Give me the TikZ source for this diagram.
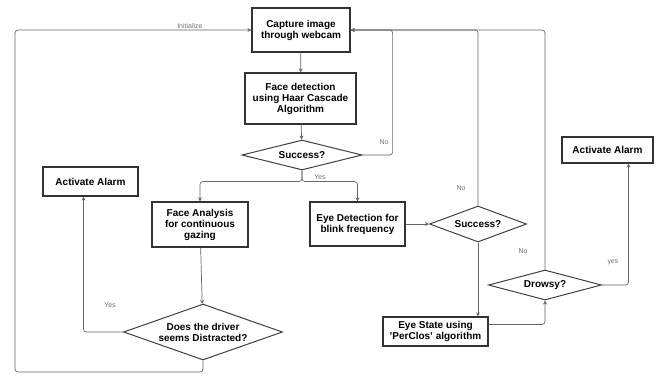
\documentclass[tikz,border=0pt]{standalone}
\usepackage{fontspec}
\setmainfont{Liberation Sans}
\usetikzlibrary{arrows.meta,positioning,shapes.geometric,calc}

\begin{document}
\begin{tikzpicture}[x=1pt, y=-1pt, rounded corners=3pt,
  box/.style={draw=black!80, line width=1.2pt, sharp corners, align=center, inner sep=0pt,
    font=\fontsize{10}{11}\selectfont\bfseries},
  decide/.style={draw=black!75, line width=1pt, sharp corners, diamond, aspect=3, inner sep=0pt,
    align=center, font=\fontsize{10}{11}\selectfont\bfseries},
  flow/.style={draw=black!60, line width=0.7pt, -{Stealth[length=4pt,width=4pt]}},
  lbl/.style={text=black!55, inner sep=1pt, font=\fontsize{7}{8}\selectfont}]
  \useasboundingbox (0,0) rectangle (661,376);
  % main column
  \node (capture) [box, minimum width=98pt, minimum height=44pt] at (301,30) {Capture image\\through webcam};
  \node (facedet) [box, minimum width=111pt, minimum height=51pt] at (300.5,98.5) {Face detection\\using Haar Cascade\\Algorithm};
  \node (succ1) [decide, minimum width=120pt, minimum height=30pt] at (302,155) {Success?};
  % face branch
  \node (faceana) [box, minimum width=96pt, minimum height=45pt] at (200,224.5) {Face Analysis\\for continuous\\gazing};
  \node (distract) [decide, minimum width=159pt, minimum height=56pt] at (203,332) {Does the driver\\seems Distracted?};
  \node (alarmL) [box, minimum width=95pt, minimum height=29pt] at (90.5,181.5) {Activate Alarm};
  % eye branch
  \node (eyedet) [box, minimum width=95pt, minimum height=44pt] at (357.5,224) {Eye Detection for\\blink frequency};
  \node (succ2) [decide, minimum width=97pt, minimum height=36pt] at (478,224) {Success?};
  \node (eyestate) [box, minimum width=105pt, minimum height=29pt] at (435.5,331.5) {Eye State using\\'PerClos' algorithm};
  \node (drowsy) [decide, minimum width=113pt, minimum height=30pt] at (545,285) {Drowsy?};
  \node (alarmR) [box, minimum width=91pt, minimum height=26pt] at (607.5,150) {Activate Alarm};

  \coordinate (ret) at ($(capture.east)+(42,0)$);
  \coordinate (loop) at (15,372);

  \draw[flow] (capture) -- (facedet);
  \draw[flow] (facedet) -- (succ1);
  \draw[flow] (succ1.south) -- ++(0,11) -| (faceana.north);
  \draw[flow] (succ1.south) -- ++(0,11) -| (eyedet.north);
  \draw[flow] (succ1.east) -| (ret) -- (capture.east);
  \draw[flow] (eyedet) -- (succ2);
  \draw[flow] (succ2.north) |- (capture.east);
  \draw[flow] (succ2.south) -- (succ2.south |- eyestate.north);
  \draw[flow] ([yshift=7pt]eyestate.east) -| (drowsy.south);
  \draw[flow] (drowsy.north) |- (capture.east);
  \draw[flow] (drowsy.east) -| ([xshift=21pt]alarmR.south);
  \draw[flow] (faceana) -- (distract);
  \draw[flow] (distract.west) -| ([xshift=-7pt]alarmL.south);
  \draw[flow] (distract.south) |- (loop) |- (capture.west) node[lbl, pos=0.87, above] {Initialize};

  % branch labels
  \node[lbl] (yes1) at (320,177) {Yes};
  \node[lbl] (no1) at (384,142) {No};
  \node[lbl] (no2) at (461,188) {No};
  \node[lbl] (no3) at (523,251) {No};
  \node[lbl] (yes2) at (613,262) {yes};
  \node[lbl] (yes3) at (110,305) {Yes};
\end{tikzpicture}
\end{document}
